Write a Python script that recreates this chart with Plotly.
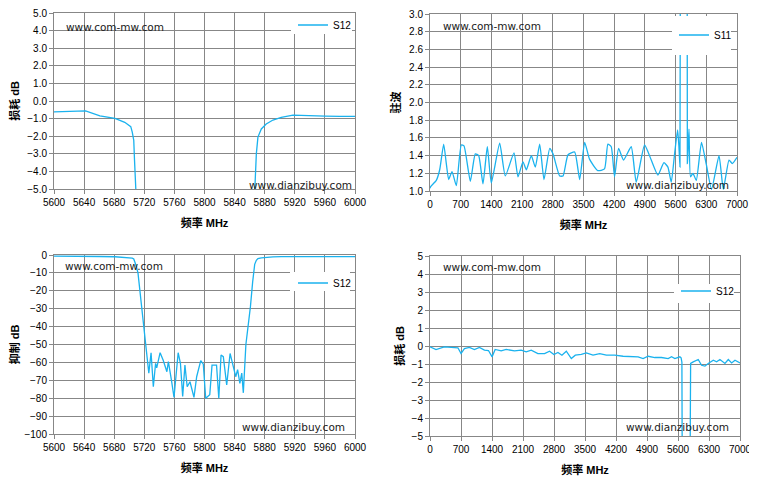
import plotly.graph_objects as go

# The page body adds an 8 px margin, so the figure is 8 px smaller than the
# 757x479 window and every pixel position below is given in window pixels.
WIN_W, WIN_H = 757, 479
OFF = 8
W, H = WIN_W - OFF, WIN_H - OFF

# ---------------- data ----------------
# S12, narrow band 5600-6000 MHz (used in top-left and bottom-left charts)
s12_freq = [5600, 5621, 5642, 5661, 5681, 5694, 5702, 5704, 5706, 5707, 5708.5, 5711.6,
            5716, 5721, 5724.5, 5726, 5729, 5732, 5735, 5736.5, 5741, 5745, 5750, 5752,
            5756, 5759.5, 5765, 5768, 5771, 5774, 5777, 5780.7, 5786, 5789.6, 5795, 5798.4,
            5801.6, 5807, 5810, 5816, 5819, 5822, 5825, 5829.5, 5834, 5839, 5841.5, 5844,
            5847, 5849.5, 5851.6, 5855, 5858, 5861, 5864, 5866.7, 5868.9, 5871, 5875.5,
            5882, 5891, 5902, 5917.6, 5935, 5960, 5980, 6000]
s12_db = [-0.62, -0.60, -0.56, -0.84, -0.99, -1.21, -1.46, -1.77, -2.24, -3.36, -5.2, -10,
          -27, -47.5, -58.7, -66, -54.6, -73.6, -60.5, -63, -54.6, -58.7, -65.2, -59.6,
          -69.8, -79.5, -54.6, -60.5, -79, -61.5, -73.6, -70.8, -79.5, -68, -59, -61,
          -80, -78, -61.5, -61.5, -80, -55.9, -56.8, -72.6, -55, -64, -68, -64,
          -71.7, -66, -77, -50, -40, -29, -15, -5.2, -2.99, -2.05, -1.59,
          -1.31, -1.08, -0.93, -0.80, -0.84, -0.86, -0.87, -0.87]

# S11 VSWR, wide band 0-7000 MHz (top-right)
s11_freq = [0, 15, 144, 221, 312, 372, 426, 502, 600, 714, 775, 920, 1033, 1110, 1208, 1307,
            1398, 1589, 1717, 1915, 2006, 2120, 2197, 2310, 2401, 2501, 2599, 2729, 2804,
            2957, 3033, 3147, 3299, 3413, 3527, 3637, 3827, 3979, 4056, 4132, 4208, 4299,
            4413, 4588, 4702, 4893, 5045, 5197, 5334, 5425, 5501, 5577, 5646, 5676, 5700,
            5716, 5790, 5864, 5868, 5905, 5940, 5996, 6072, 6190, 6300, 6420, 6590, 6688,
            6818, 6893, 7000]
s11_vswr = [1.03, 1.05, 1.12, 1.24, 1.53, 1.31, 1.13, 1.22, 1.06, 1.52, 1.51, 1.11, 1.42, 1.40,
            1.08, 1.50, 1.09, 1.54, 1.17, 1.43, 1.16, 1.33, 1.24, 1.40, 1.27, 1.53, 1.13, 1.48,
            1.42, 1.17, 1.17, 1.41, 1.44, 1.13, 1.55, 1.36, 1.23, 1.25, 1.53, 1.50, 1.16, 1.48,
            1.35, 1.50, 1.10, 1.52, 1.35, 1.18, 1.32, 1.27, 1.10, 1.42, 1.69, 1.50, 1.27,
            9.0, 20.0, 9.0, 1.31, 1.70, 1.16, 1.20, 1.12, 1.55, 1.30, 1.02, 1.40, 1.02,
            1.35, 1.31, 1.38]

# S12 insertion loss, wide band 0-7000 MHz (bottom-right)
wb_freq = [0, 136, 324, 551, 630, 701, 777, 890, 1003, 1116, 1230, 1320, 1403, 1471, 1607,
           1720, 1908, 2059, 2172, 2286, 2436, 2587, 2700, 2798, 2889, 2979, 3078, 3191, 3281,
           3417, 3530, 3681, 3832, 3983, 4171, 4360, 4548, 4699, 4812, 4926, 5076, 5227,
           5378, 5454, 5529, 5642, 5670, 5688, 5700, 5780, 5865, 5885, 5944, 6057, 6132,
           6208, 6283, 6397, 6472, 6547, 6660, 6736, 6811, 6887, 7000]
wb_db = [-0.05, -0.2, -0.05, -0.08, -0.1, -0.42, -0.14, -0.08, -0.2, -0.08, -0.23, -0.25, -0.6,
         -0.19, -0.27, -0.19, -0.27, -0.23, -0.32, -0.23, -0.42, -0.42, -0.29, -0.47, -0.36,
         -0.51, -0.29, -0.70, -0.51, -0.47, -0.38, -0.51, -0.42, -0.51, -0.51, -0.57, -0.57,
         -0.60, -0.70, -0.57, -0.64, -0.64, -0.70, -0.60, -0.70, -0.60, -0.66, -0.9, -10,
         -60, -10, -0.97, -0.88, -0.75, -1.07, -1.12, -0.97, -0.79, -0.88, -0.75, -0.97,
         -0.75, -0.94, -0.79, -0.94]

x_title = "频率 MHz"
y_titles = ["损耗 dB", "驻波", "抑制 dB", "损耗 dB"]
wm_top = "www.com-mw.com"
wm_bottom = "www.dianzibuy.com"

# ---------------- style ----------------
LINE = "#1AB2EE"
GRID = "#878787"
TICKFONT = dict(family="Liberation Sans, Arial, sans-serif", size=10, color="#000000")
TITLEFONT = dict(family="Liberation Sans, Noto Sans CJK SC, sans-serif", size=11, color="#000000", weight="bold")
WMFONT = dict(family="DejaVu Sans, sans-serif", size=10.5, color="#1a1a1a")


def px_x(p):
    return (p - OFF) / W


def px_y(p):
    return 1 - (p - OFF) / H


# plot-area pixel boxes in window pixels: (left, right, top, bottom)
boxes = [(54, 355, 13, 189), (430, 737, 14, 191), (54, 355, 255, 434), (430, 740, 256, 436)]
y_standoff = [7, 6, 7, 4]

fig = go.Figure()

fig.add_trace(go.Scatter(x=s12_freq, y=s12_db, name="S12", mode="lines",
                         line=dict(color=LINE, width=1.3), xaxis="x", yaxis="y", legend="legend"))
fig.add_trace(go.Scatter(x=s11_freq, y=s11_vswr, name="S11", mode="lines",
                         line=dict(color=LINE, width=1.3, shape="spline", smoothing=0.5),
                         xaxis="x2", yaxis="y2", legend="legend2"))
fig.add_trace(go.Scatter(x=s12_freq, y=s12_db, name="S12", mode="lines",
                         line=dict(color=LINE, width=1.3), xaxis="x3", yaxis="y3", legend="legend3"))
fig.add_trace(go.Scatter(x=wb_freq, y=wb_db, name="S12", mode="lines",
                         line=dict(color=LINE, width=1.3), xaxis="x4", yaxis="y4", legend="legend4"))

axis_common = dict(showgrid=True, gridcolor=GRID, gridwidth=1, showline=True, linecolor=GRID,
                   linewidth=1, mirror=True, ticks="outside", ticklen=4, tickcolor=GRID,
                   tickfont=TICKFONT, zeroline=False, fixedrange=True, automargin=False,
                   ticklabeloverflow="allow")

xcfg = [dict(range=[5600, 6000], tick0=5600, dtick=40),
        dict(range=[0, 7000], tick0=0, dtick=700),
        dict(range=[5600, 6000], tick0=5600, dtick=40),
        dict(range=[0, 7000], tick0=0, dtick=700)]
ycfg = [dict(range=[-5, 5], tick0=-5, dtick=1, tickformat=".1f"),
        dict(range=[1, 3], tick0=1, dtick=0.2, tickformat=".1f"),
        dict(range=[-100, 0], tick0=-100, dtick=10),
        dict(range=[-5, 5], tick0=-5, dtick=1)]

layout = dict(width=W, height=H, margin=dict(l=0, r=0, t=0, b=0, autoexpand=False),
              paper_bgcolor="white", plot_bgcolor="white", showlegend=True)

for i, (l, r, t, b) in enumerate(boxes):
    n = "" if i == 0 else str(i + 1)
    layout["xaxis" + n] = dict(axis_common, domain=[px_x(l), px_x(r)], anchor="y" + n,
                               title=dict(text=x_title, font=TITLEFONT, standoff=12), **xcfg[i])
    layout["yaxis" + n] = dict(axis_common, domain=[px_y(b), px_y(t)], anchor="x" + n,
                               title=dict(text=y_titles[i], font=TITLEFONT, standoff=y_standoff[i]), **ycfg[i])

fig.update_layout(**layout)

# legend boxes (white, covering grid and trace like the original); (box l, r, t, b, legend left, text centre y)
legend_boxes = [(291, 352, 13, 34, 293, 25), (672, 731, 16, 55, 674, 35),
                (290, 350, 272, 291, 293, 283), (674, 734, 284, 303, 676, 291)]
shapes = []
for i, (l, r, t, b, lx, cy) in enumerate(legend_boxes):
    shapes.append(dict(type="rect", xref="paper", yref="paper", x0=px_x(l), x1=px_x(r),
                       y0=px_y(b), y1=px_y(t), fillcolor="white", line=dict(width=0), layer="above"))
    name = "legend" if i == 0 else "legend%d" % (i + 1)
    fig.update_layout(**{name: dict(x=px_x(lx), y=px_y(cy), xanchor="left", yanchor="middle",
                                    bgcolor="rgba(0,0,0,0)", borderwidth=0,
                                    font=dict(family="Liberation Sans, Arial, sans-serif", size=10, color="#000"),
                                    itemwidth=30)})
fig.update_layout(shapes=shapes)

# watermarks
wm = [((64, 27), (247, 185)), ((441, 26), (624, 185)), ((63, 266), (240, 427)), ((441, 267), (624, 427))]
ann = []
for (a, b) in wm:
    ann.append(dict(text=wm_top, x=px_x(a[0]), y=px_y(a[1]), xref="paper", yref="paper",
                    xanchor="left", yanchor="middle", showarrow=False, font=WMFONT))
    ann.append(dict(text=wm_bottom, x=px_x(b[0]), y=px_y(b[1]), xref="paper", yref="paper",
                    xanchor="left", yanchor="middle", showarrow=False, font=WMFONT))
fig.update_layout(annotations=ann)

fig.write_html("out.html")
